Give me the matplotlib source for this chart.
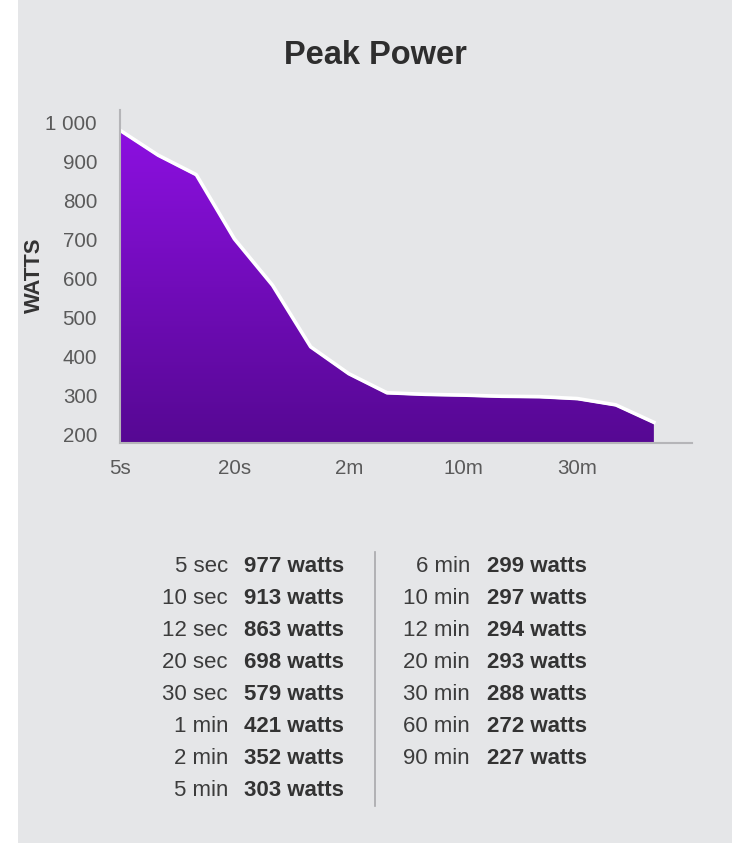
import numpy as np
import matplotlib
matplotlib.use('Agg')
import matplotlib.pyplot as plt
from matplotlib.colors import LinearSegmentedColormap
from matplotlib.patches import Rectangle

# data
durations = ['5 sec', '10 sec', '12 sec', '20 sec', '30 sec', '1 min', '2 min', '5 min',
             '6 min', '10 min', '12 min', '20 min', '30 min', '60 min', '90 min']
watts = [977, 913, 863, 698, 579, 421, 352, 303, 299, 297, 294, 293, 288, 272, 227]
tick_pos = [0, 3, 6, 9, 12]
tick_labels = ['5s', '20s', '2m', '10m', '30m']
y_ticks = [200, 300, 400, 500, 600, 700, 800, 900, 1000]
y_tick_labels = ['200', '300', '400', '500', '600', '700', '800', '900', '1 000']

W, H = 750, 843
bg = '#e5e6e8'
plt.rcParams['font.family'] = ['Liberation Sans', 'DejaVu Sans']

fig = plt.figure(figsize=(W / 100, H / 100), dpi=100)
fig.patch.set_facecolor('white')
# grey panel behind everything
fig.patches.append(Rectangle((18 / W, 0), (732 - 18) / W, 1, transform=fig.transFigure,
                             facecolor=bg, edgecolor='none', zorder=-10))

def px(x, y):
    return x / W, 1 - y / H

ax = fig.add_axes([120 / W, 1 - 443 / H, (692 - 120) / W, (443 - 110) / H])
ax.set_zorder(1)
ax.patch.set_alpha(0)
ylo, yhi = 178, 1033

x = np.arange(len(watts))
poly = ax.fill_between(x, watts, ylo, color='none', lw=0)
cmap = LinearSegmentedColormap.from_list('pp', ['#560893', '#8c10e0'])
grad = np.linspace(0, 1, 256).reshape(-1, 1)
img = ax.imshow(grad, cmap=cmap, aspect='auto', origin='lower',
                extent=[0, 14, ylo, max(watts)], zorder=1)
path = poly.get_paths()[0]
img.set_clip_path(path, transform=ax.transData)
ax.plot(x, np.array(watts) + 4, color='white', lw=2.6, zorder=2, solid_joinstyle='round')
ax.set_xlim(0, 15)
ax.set_ylim(ylo, yhi)

for s in ['top', 'right']:
    ax.spines[s].set_visible(False)
for s in ['left', 'bottom']:
    ax.spines[s].set_color('#b5b5b8')
    ax.spines[s].set_linewidth(1.5)

ax.set_xticks(tick_pos)
ax.set_xticklabels(tick_labels)
ax.set_yticks(y_ticks)
ax.set_yticklabels(y_tick_labels)
ax.tick_params(length=0, labelsize=14.8, labelcolor='#5a5a5a')
ax.tick_params(axis='x', pad=11.5)
ax.tick_params(axis='y', pad=16.5)
ax.set_ylabel('WATTS', fontsize=15.8, fontweight='bold', color='#333333')
ax.yaxis.set_label_coords((45 - 120) / 572, (443 - 275) / 333)

fig.text(*px(375, 55), 'Peak Power', ha='center', va='center', fontsize=23.5,
         fontweight='bold', color='#2e2e2e')

# table of peak values
row0, step = 567, 32
for i, (d, w) in enumerate(zip(durations, watts)):
    if i < 8:
        lx, vx, r = 228, 244, i
    else:
        lx, vx, r = 470, 487, i - 8
    yy = row0 + r * step
    fig.text(*px(lx, yy), d, ha='right', va='center', fontsize=16, color='#3c3c3c')
    fig.text(*px(vx, yy), f'{w} watts', ha='left', va='center', fontsize=16,
             fontweight='bold', color='#333333')

fig.add_artist(plt.Line2D([375 / W, 375 / W], [1 - 552 / H, 1 - 806 / H],
                          transform=fig.transFigure, color='#a8a8ab', lw=1.2))

fig.savefig('out.png', dpi=100, facecolor=fig.get_facecolor())
